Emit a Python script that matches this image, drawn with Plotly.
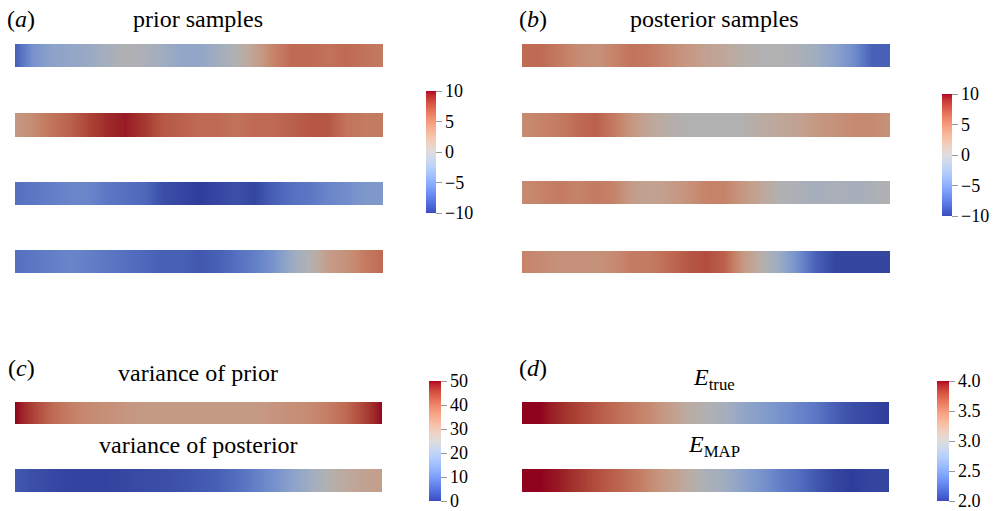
import numpy as np
import plotly.graph_objects as go

W, H = 997, 511
FONT = "Liberation Serif"

# ---------------- data (values along each strip, left -> right) ----------------
prior_1 = [-8, -4.5, -3, -2.5, -2, -1, 0, -0.5, -1.5, -2.5, -2.5, -1.5, 0, 2, 4.5, 6, 6, 5.5, 6, 5.5, 5]
prior_2 = [3, 4, 5.5, 6.5, 8, 9, 9.5, 8.5, 7, 6.5, 6, 6, 5.5, 6, 6, 6.5, 7, 7, 5.5, 5, 5]
prior_3 = [-7, -6.5, -6, -5.5, -5.5, -6.5, -7, -7.5, -9, -9.5, -10, -9.5, -9, -9.5, -8, -7, -6.5, -5.5, -5, -4, -4]
prior_4 = [-7, -6.5, -6, -5.5, -6, -6.5, -7, -7.5, -8, -8, -8.5, -8, -7, -6, -4.5, -2, 0, 2.5, 3.5, 5, 6]

post_1 = [6, 6, 5, 4, 3.5, 4.5, 5.5, 5, 4, 3, 2, 1.5, 0.5, 0, 0, -0.5, -1.5, -3, -5, -8, -8]
post_2 = [4, 4.5, 5, 6, 6.5, 5, 3, 1.5, 0.5, 0, 0, 0, 0, 1, 1.5, 2, 3, 3.5, 4, 4, 3.5]
post_3 = [4, 4.5, 5, 4.5, 5, 4.5, 2.5, 2, 2.5, 3.5, 4.5, 4.5, 3, 1.5, 0, -0.5, -1, -0.5, -1, -0.5, 0]
post_4 = [4.5, 4, 3.5, 3.5, 3.5, 4, 5, 5, 6, 7, 7.5, 6.5, 3, 0.5, -2, -5, -8, -9.5, -9.5, -9.5, -9.5]

var_prior = [50, 45, 40, 37, 35, 34, 33, 32, 32, 32, 32, 32, 32, 32, 33, 34, 35, 37, 40, 45, 50]
var_post = [4, 2.5, 1.5, 1, 1, 1, 1.5, 2, 2.5, 3, 4, 5, 7, 10, 13, 17, 21, 25, 28, 30, 31]

E_true = [4.0, 4.0, 3.9, 3.8, 3.7, 3.6, 3.5, 3.4, 3.25, 3.1, 3.0, 2.9, 2.75, 2.65, 2.55, 2.45, 2.35, 2.2, 2.1, 2.05, 2.0]
E_map = [4.0, 4.0, 3.95, 3.85, 3.75, 3.65, 3.55, 3.4, 3.25, 3.1, 2.95, 2.85, 2.7, 2.55, 2.4, 2.3, 2.15, 2.05, 2.0, 2.05, 2.05]

sample_ticks = [-10, -5, 0, 5, 10]
var_ticks = [0, 10, 20, 30, 40, 50]
E_ticks = [2.0, 2.5, 3.0, 3.5, 4.0]
E_ticktext = ["2.0", "2.5", "3.0", "3.5", "4.0"]

# ---------------- colour map (Cool to Warm) ----------------
cw = [
    (59, 76, 192), (68, 90, 204), (77, 104, 215), (87, 117, 225), (98, 130, 234),
    (108, 142, 241), (119, 154, 247), (130, 165, 251), (141, 176, 254), (152, 185, 255),
    (163, 194, 255), (174, 201, 253), (184, 208, 249), (194, 213, 244), (204, 217, 238),
    (213, 219, 230), (221, 221, 221), (229, 216, 209), (236, 211, 197), (241, 204, 185),
    (245, 196, 173), (247, 187, 160), (247, 177, 148), (247, 166, 135), (244, 154, 123),
    (241, 141, 111), (236, 127, 99), (229, 112, 88), (222, 96, 77), (213, 80, 66),
    (203, 62, 56), (192, 40, 47), (180, 4, 38),
]


def scale(f):
    n = len(cw) - 1
    return [[i / n, "rgb(%d,%d,%d)" % tuple(int(round(c * f)) for c in col)] for i, col in enumerate(cw)]


bright = scale(1.0)
shaded = scale(0.8)

# ---------------- layout geometry (pixels) ----------------
def px_x(x):
    return x / W


def px_y(y):
    return 1 - y / H


panels = [
    dict(data=[prior_1, prior_2, prior_3, prior_4], x=(15, 383),
         ys=[(44, 67), (113, 137), (182, 205), (250, 273)], cmin=-10, cmax=10,
         cb=(426, 91, 122, 10), tickvals=sample_ticks, ticktext=None),
    dict(data=[post_1, post_2, post_3, post_4], x=(522, 890),
         ys=[(44, 67), (113, 137), (181, 204), (251, 273)], cmin=-10, cmax=10,
         cb=(942, 94, 122, 10), tickvals=sample_ticks, ticktext=None),
    dict(data=[var_prior, var_post], x=(15, 382),
         ys=[(402, 424), (469, 492)], cmin=0, cmax=50,
         cb=(429, 381, 120, 12), tickvals=var_ticks, ticktext=None),
    dict(data=[E_true, E_map], x=(522, 889),
         ys=[(402, 424), (469, 492)], cmin=2.0, cmax=4.0,
         cb=(937, 381, 120, 12), tickvals=E_ticks, ticktext=E_ticktext),
]

fig = go.Figure()
layout_axes = {}
k = 0
for p in panels:
    first_axis = None
    for vals, (yt, yb) in zip(p["data"], p["ys"]):
        k += 1
        xa = "x" if k == 1 else "x%d" % k
        ya = "y" if k == 1 else "y%d" % k
        n = len(vals)
        fig.add_trace(go.Heatmap(
            z=[vals, vals], x=list(range(n)), y=[0, 1],
            zmin=p["cmin"], zmax=p["cmax"], colorscale=shaded, zsmooth="best",
            showscale=False, xaxis=xa, yaxis=ya, hoverinfo="skip"))
        xname = "xaxis" if k == 1 else "xaxis%d" % k
        yname = "yaxis" if k == 1 else "yaxis%d" % k
        layout_axes[xname] = dict(domain=[px_x(p["x"][0]), px_x(p["x"][1])], range=[0, n - 1],
                                  visible=False, fixedrange=True, anchor=ya)
        layout_axes[yname] = dict(domain=[px_y(yb), px_y(yt)], range=[-0.5, 1.5],
                                  visible=False, fixedrange=True, anchor=xa)
        if first_axis is None:
            first_axis = (xa, ya)
    cx, cy, clen, cth = p["cb"]
    cbar = dict(thickness=cth, thicknessmode="pixels", len=clen, lenmode="pixels",
                x=px_x(cx), xanchor="left", xpad=0, y=px_y(cy), yanchor="top", ypad=0,
                tickvals=p["tickvals"], ticks="outside", ticklen=6, tickwidth=1,
                tickcolor="#999999", outlinewidth=0, ticklabeloverflow="allow",
                tickfont=dict(family=FONT, size=18, color="black"))
    if p["ticktext"] is not None:
        cbar["ticktext"] = p["ticktext"]
    fig.add_trace(go.Scatter(
        x=[1], y=[0.5], mode="markers", xaxis=first_axis[0], yaxis=first_axis[1],
        marker=dict(color=[p["cmin"]], cmin=p["cmin"], cmax=p["cmax"], colorscale=bright,
                    opacity=0, showscale=True, colorbar=cbar),
        hoverinfo="skip", showlegend=False))

texts = [
    ("(<i>a</i>)", 21, 19),
    ("prior samples", 198, 19),
    ("(<i>b</i>)", 533, 19),
    ("posterior samples", 714, 19),
    ("(<i>c</i>)", 21, 368),
    ("variance of prior", 198, 373),
    ("variance of posterior", 198, 445),
    ("(<i>d</i>)", 533, 368),
    ("<i>E</i><sub>true</sub>", 714, 379),
    ("<i>E</i><sub>MAP</sub>", 714, 446),
]
annotations = [dict(text=t, x=px_x(x), y=px_y(y), xref="paper", yref="paper",
                    xanchor="center", yanchor="middle", showarrow=False,
                    font=dict(family=FONT, size=24, color="black"))
               for t, x, y in texts]

fig.update_layout(width=W, height=H, margin=dict(l=0, r=0, t=0, b=0),
                  paper_bgcolor="white", plot_bgcolor="white",
                  showlegend=False, annotations=annotations, **layout_axes)

fig.write_html("out.html", config={"displayModeBar": False},
               post_script="document.body.style.margin='0';")
